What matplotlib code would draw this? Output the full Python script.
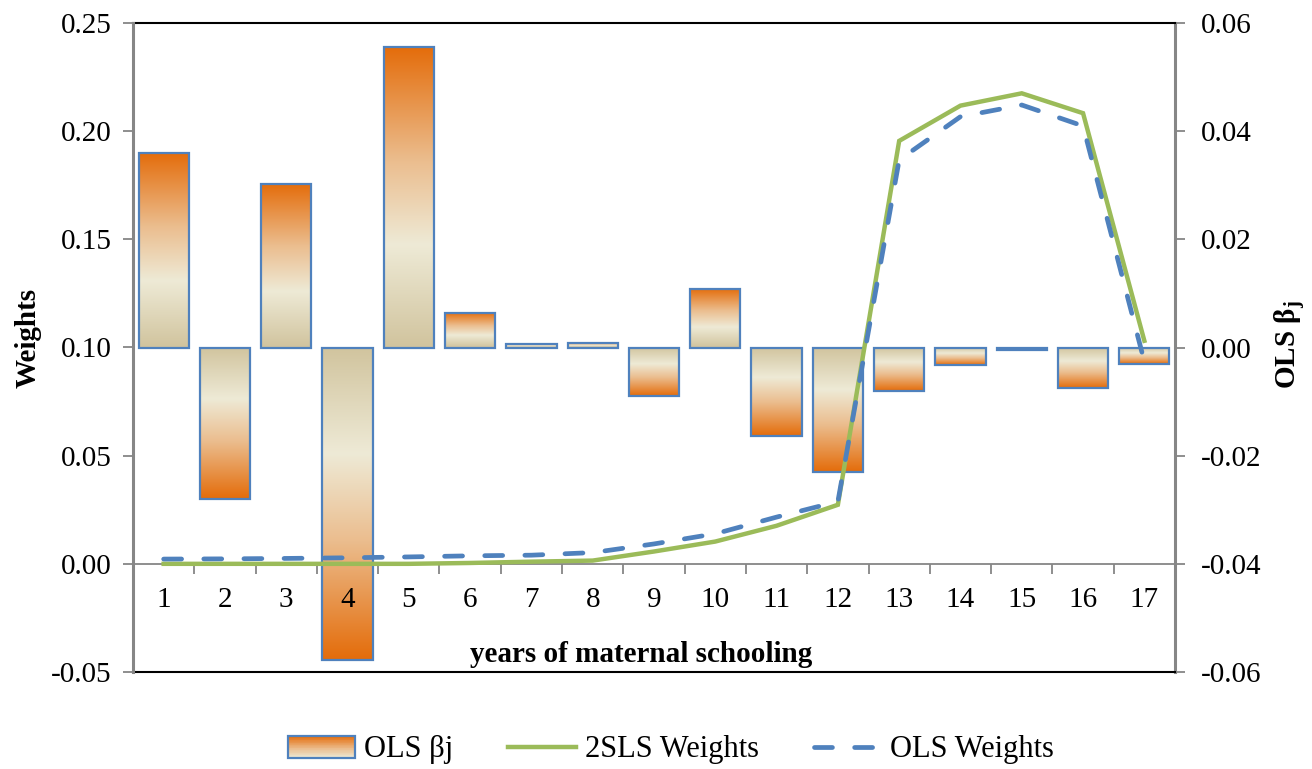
import numpy as np
import matplotlib
matplotlib.use("Agg")
import matplotlib.pyplot as plt
from matplotlib.colors import LinearSegmentedColormap
from matplotlib.patches import Rectangle
from matplotlib.lines import Line2D
from matplotlib.legend_handler import HandlerBase

# ---------------- data ----------------
years = list(range(1, 18))
ols_beta = [0.0359, -0.0281, 0.0303, -0.0577, 0.0555, 0.0063, 0.0007, 0.0009,
            -0.0089, 0.0109, -0.0163, -0.0231, -0.0081, -0.0033, -0.0005, -0.0075, -0.0031]
tsls_weights = [0.0000, 0.0000, 0.0000, 0.0000, 0.0000, 0.0004, 0.0010, 0.0015,
                0.0057, 0.0103, 0.0176, 0.0273, 0.1955, 0.2118, 0.2175, 0.2083, 0.1031]
ols_weights = [0.0022, 0.0023, 0.0025, 0.0028, 0.0032, 0.0037, 0.0040, 0.0052,
               0.0092, 0.0139, 0.0216, 0.0288, 0.1867, 0.2067, 0.2121, 0.2024, 0.0935]
left_ticks = [-0.05, 0.00, 0.05, 0.10, 0.15, 0.20, 0.25]
right_ticks = [-0.06, -0.04, -0.02, 0.00, 0.02, 0.04, 0.06]

plt.rcParams['font.family'] = ['Liberation Serif', 'DejaVu Serif']
plt.rcParams['mathtext.fontset'] = 'custom'
plt.rcParams['mathtext.rm'] = 'Liberation Serif'
plt.rcParams['mathtext.it'] = 'Liberation Serif:italic'
plt.rcParams['mathtext.bf'] = 'Liberation Serif:bold'
FS = 21

BLUE = '#4F81BD'
GREEN = '#9BBB59'
GRAY = '#868686'
grad_cmap = LinearSegmentedColormap.from_list(
    'grad', [(0.0, '#D1C49E'), (0.34, '#EEEAD6'), (0.62, '#EBBD8E'), (1.0, '#E46C0A')])

fig = plt.figure(figsize=(13.12, 7.69), dpi=100)
ax = fig.add_axes([133/1312, 97/769, 1042/1312, 649/769])
ax2 = ax.twinx()

# bars on right axis
width = 0.82
bars = ax2.bar(years, ols_beta, width=width, facecolor='none', edgecolor=BLUE,
               linewidth=1.6, zorder=3)
grad = np.linspace(0, 1, 256).reshape(-1, 1)
for b in bars:
    x0 = b.get_x()
    h = b.get_height()
    ax2.imshow(grad, extent=[x0, x0 + b.get_width(), 0, h], origin='lower',
               aspect='auto', cmap=grad_cmap, zorder=2, interpolation='bilinear')

# lines on left axis
ax.set_zorder(ax2.get_zorder() + 1)
ax.patch.set_visible(False)
ax.plot(years, tsls_weights, color=GREEN, lw=3.2, solid_joinstyle='miter', zorder=4)
ax.plot(years, ols_weights, color=BLUE, lw=3.4, linestyle=(0, (3.8, 4.7)),
        dash_capstyle='round', zorder=5)

ax.set_xlim(0.5, 17.5)
ax.set_ylim(-0.05, 0.25)
ax2.set_ylim(-0.06, 0.06)
ax2.set_xlim(0.5, 17.5)

ax.set_yticks(left_ticks)
ax.set_yticklabels([f'{v:.2f}' for v in left_ticks])
ax2.set_yticks(right_ticks)
ax2.set_yticklabels([f'{v:.2f}' for v in right_ticks])

# x axis at zero of left axis
ax.set_xticks(np.arange(0.5, 18, 1.0))
ax.set_xticklabels([])
ax.set_xticks(years, minor=True)
ax.set_xticklabels([str(y) for y in years], minor=True)
ax.tick_params(axis='x', which='major', length=7, width=1.3, color=GRAY, direction='out')
ax.tick_params(axis='x', which='minor', length=0, pad=17, labelsize=FS)
ax.tick_params(axis='y', length=7.5, width=1.3, color=GRAY, pad=8, labelsize=FS)
ax2.tick_params(axis='y', length=7.5, width=1.3, color=GRAY, pad=11, labelsize=FS)
ax2.tick_params(axis='x', which='both', bottom=False, labelbottom=False)

ax.spines['bottom'].set_position(('data', 0))
ax.spines['bottom'].set_color(GRAY)
ax.spines['bottom'].set_linewidth(1.3)
ax.spines['left'].set_color(GRAY)
ax.spines['left'].set_linewidth(2.2)
ax.spines['top'].set_visible(False)
ax.spines['right'].set_visible(False)
ax2.spines['left'].set_visible(False)
ax2.spines['right'].set_color(GRAY)
ax2.spines['right'].set_linewidth(2.2)
ax2.spines['top'].set_color('black')
ax2.spines['top'].set_linewidth(1.5)
ax2.spines['bottom'].set_color('black')
ax2.spines['bottom'].set_linewidth(1.5)

ax.text((641 - 133) / 1042, (672 - 655) / 649, 'years of maternal schooling',
        transform=ax.transAxes, ha='center', va='center', fontsize=FS, fontweight='bold')
fig.text(28 / 1312, 1 - 338 / 769, 'Weights', rotation=90, ha='center', va='center',
         fontsize=FS, fontweight='bold')
fig.text(1291 / 1312, 1 - 345 / 769, r'OLS β$_{\mathbf{j}}$', rotation=90, ha='center',
         va='center', fontsize=FS, fontweight='bold')


class HandlerGradient(HandlerBase):
    def create_artists(self, legend, orig_handle, xdescent, ydescent, width, height,
                       fontsize, trans):
        arts = []
        n = 30
        for i in range(n):
            c = grad_cmap((i + 0.5) / n * 0.65 + 0.35)
            r = Rectangle((-xdescent, -ydescent + height * i / n), width, height / n + 0.3,
                          facecolor=c, edgecolor='none', transform=trans)
            arts.append(r)
        border = Rectangle((-xdescent, -ydescent), width, height, facecolor='none',
                           edgecolor=BLUE, linewidth=1.6, transform=trans)
        arts.append(border)
        return arts


gh = Rectangle((0, 0), 1, 1)
lg = Line2D([], [], color=GREEN, lw=3.2)
lb = Line2D([], [], color=BLUE, lw=3.4, linestyle=(0, (3.8, 4.7)), dash_capstyle='round')
fig.legend([gh, lg, lb], ['OLS βj', '2SLS Weights', 'OLS Weights'],
           handler_map={Rectangle: HandlerGradient()},
           loc='center', bbox_to_anchor=(671 / 1312, 1 - 750 / 769), ncol=3,
           frameon=False, fontsize=22, handlelength=2.2, handletextpad=0.3,
           columnspacing=1.8, handleheight=0.7)

fig.savefig('out.png', dpi=100)
